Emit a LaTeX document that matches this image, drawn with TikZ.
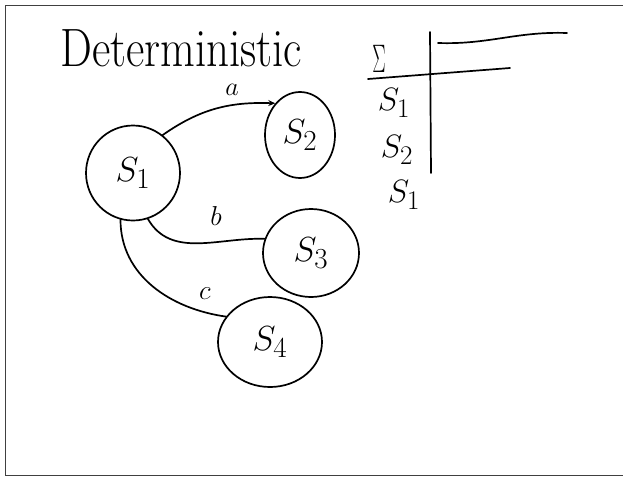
\documentclass[tikz,border=0pt]{standalone}
\usepackage{graphicx}
\usetikzlibrary{arrows.meta,shapes.geometric}
\newcommand{\scmath}[2]{\scalebox{#1}{$#2$}}
\begin{document}
\begin{tikzpicture}[x=1pt,y=-1pt,
  ink/.style={line width=1.7pt, line cap=round, line join=round, black},
  state/.style={ink, draw, ellipse, inner sep=0pt, font=\fontsize{24.88}{26}\selectfont},
  lbl/.style={inner sep=0pt, font=\fontsize{24.88}{26}\selectfont},
  rowlbl/.style={inner sep=0pt, font=\fontsize{24.88}{26}\selectfont}]
\useasboundingbox (0,0) rectangle (623,477);
\draw[line width=1pt, black!75] (623,5) -- (5,5) -- (5,475) -- (623,475);
% title
\node[inner sep=0pt, anchor=base west, font=\fontsize{45}{47}\selectfont, yscale=1.2] (title) at (60,66) {Deterministic};
% states
\node[state, minimum width=94pt, minimum height=95pt] (s1) at (133,173) {\scmath{1.4}{S_1}};
\node[state, minimum width=70pt, minimum height=86pt] (s2) at (300,135) {\scmath{1.4}{S_2}};
\node[state, minimum width=96pt, minimum height=88pt] (s3) at (311,253) {\scmath{1.4}{S_3}};
\node[state, minimum width=104pt, minimum height=90pt] (s4) at (270,342) {\scmath{1.4}{S_4}};
% edges
\draw[ink, -{Stealth[length=7pt,width=6pt]}] (s1.52) to[out=35,in=178] (s2.128);
\draw[ink] (s1.-72) to[out=-60,in=178] (s3.163);
\draw[ink] (s1.-105) to[out=-90,in=172] (s4.150);
% labels
\node[lbl] (la) at (232,90) {\scmath{1.05}{a}};
\node[lbl] (lb) at (216,216) {\scmath{1.1}{b}};
\node[lbl] (lc) at (205,294) {\scmath{1.1}{c}};
% table
\coordinate (vt) at (430,32);
\coordinate (vb) at (431,173);
\coordinate (h1l) at (368,79);
\coordinate (h1r) at (510,68);
\coordinate (h2l) at (438,43);
\coordinate (h2r) at (567,33);
\draw[ink] (vt) -- (vb);
\draw[ink] (h1l) -- (h1r);
\draw[ink] (h2l) to[out=-2,in=178] (h2r);
\node[rowlbl] (sig) at (379,59) {\scalebox{0.8}[1.6]{$\Sigma$}};
\node[rowlbl] (r1) at (394,103) {\scmath{1.3}{S_1}};
\node[rowlbl] (r2) at (397,150) {\scmath{1.3}{S_2}};
\node[rowlbl] (r3) at (404,195) {\scmath{1.3}{S_1}};
\end{tikzpicture}
\end{document}
